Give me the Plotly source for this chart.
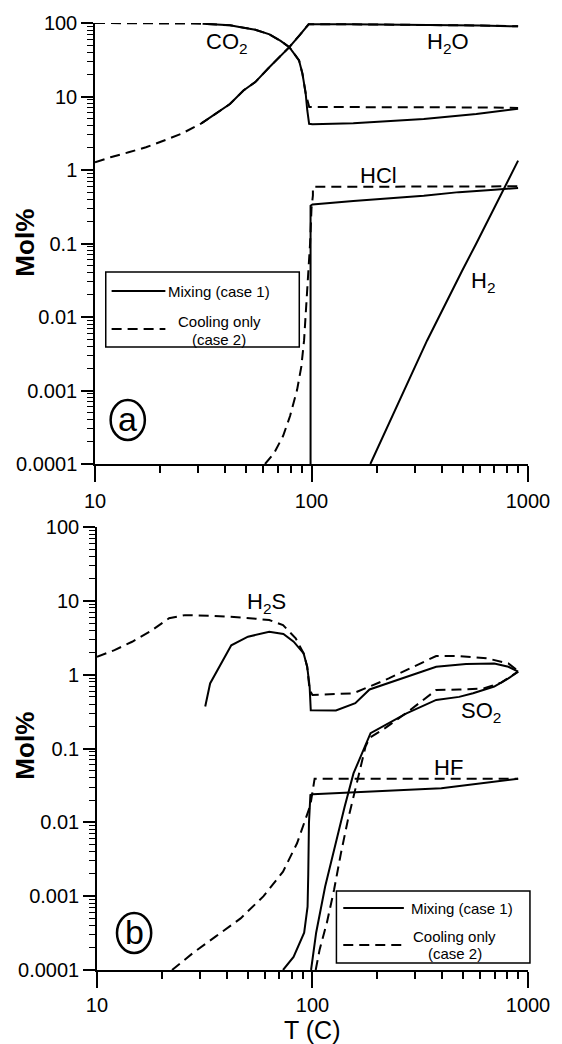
import plotly.graph_objects as go

# ---------------- DATA ----------------
# Panel (a)
h2o_mix_T = [31, 42, 48.5, 55, 64, 79, 88, 97, 150, 330, 600, 900]
h2o_mix_v = [4.3, 7.9, 12.1, 15.7, 25.2, 47, 68, 96, 96, 95, 92.5, 90]
h2o_cool_T = [10, 11.8, 14.3, 17.2, 20.7, 25, 31, 42, 48.5, 55, 64, 79, 88, 97, 150, 330, 600, 900]
h2o_cool_v = [1.27, 1.49, 1.74, 2.04, 2.5, 3.1, 4.3, 7.9, 12.1, 15.7, 25.2, 47, 68, 96, 96, 95, 92.5, 90]

co2_mix_T = [31.4, 42, 48.5, 55, 64, 72, 79, 84, 87.6, 90.8, 94, 95.6, 96.6, 97.5, 101, 156, 330, 577, 900]
co2_mix_v = [98, 93, 86, 81, 70, 57, 47, 37, 31, 20.5, 11, 6.5, 4.74, 4.25, 4.2, 4.33, 4.95, 5.8, 6.8]
co2_cool_T = [10, 20, 31.4, 42, 48.5, 55, 64, 72, 79, 84, 87.6, 90.8, 94, 97.6, 101, 300, 600, 900]
co2_cool_v = [100, 99.5, 98, 93, 86, 81, 70, 57, 47, 37, 31, 20.5, 11, 7.2, 7.2, 7.15, 7.1, 7.0]

hcl_mix_T = [99, 99, 101, 156, 330, 479, 700, 900]
hcl_mix_v = [0.0001, 0.327, 0.34, 0.38, 0.445, 0.5, 0.54, 0.57]
hcl_cool_T = [61, 67.3, 73.9, 79.6, 85.8, 89.7, 92.4, 94.6, 96.7, 98.5, 100, 101.5, 101.5, 900]
hcl_cool_v = [0.0001, 0.000142, 0.00024, 0.00045, 0.00102, 0.0021, 0.0048, 0.0136, 0.0385, 0.1, 0.3, 0.45, 0.59, 0.6]

h2_mix_T = [187, 342, 497, 577, 900]
h2_mix_v = [0.0001, 0.0048, 0.043, 0.1, 1.34]

# Panel (b)
h2s_mix_T = [31.8, 33.5, 42, 50.2, 63, 73.3, 81.8, 91, 94.5, 97, 98.2, 128.5, 158, 184, 375, 516, 697, 811, 900]
h2s_mix_v = [0.37, 0.76, 2.5, 3.27, 3.8, 3.55, 2.8, 1.94, 1.28, 0.69, 0.33, 0.327, 0.41, 0.63, 1.28, 1.39, 1.42, 1.28, 1.1]
h2s_cool_T = [10, 12.06, 14.56, 17.56, 21.6, 25.6, 34.5, 46.6, 63, 73, 83.6, 91, 94.5, 97, 100, 155, 184, 226, 375, 479, 647, 811, 900]
h2s_cool_v = [1.75, 2.15, 2.79, 3.81, 5.8, 6.4, 6.27, 5.95, 5.5, 4.7, 3.1, 1.94, 1.28, 0.62, 0.53, 0.56, 0.69, 0.89, 1.79, 1.79, 1.66, 1.42, 1.12]

so2_mix_T = [98.5, 104, 114.5, 128, 141, 155, 180, 186, 273, 375, 479, 556, 697, 811, 900]
so2_mix_v = [0.0001, 0.00032, 0.00135, 0.0052, 0.0163, 0.046, 0.13, 0.161, 0.30, 0.455, 0.50, 0.56, 0.69, 0.89, 1.1]
so2_cool_T = [103.5, 108, 116.7, 126, 135.5, 146, 160.6, 176, 184, 218, 283, 375, 479, 622, 752, 900]
so2_cool_v = [0.0001, 0.00019, 0.00044, 0.00123, 0.0038, 0.0108, 0.034, 0.105, 0.14, 0.19, 0.33, 0.62, 0.63, 0.65, 0.78, 1.1]

hf_mix_T = [73, 81.7, 91.5, 94.9, 95.6, 96.3, 97.8, 100.2, 396, 900]
hf_mix_v = [0.0001, 0.00015, 0.00032, 0.00072, 0.002, 0.0097, 0.0234, 0.024, 0.029, 0.039]
hf_cool_T = [22.3, 27.9, 35.6, 46.4, 59.3, 73, 84.8, 91.5, 97.8, 102.3, 900]
hf_cool_v = [0.0001, 0.00017, 0.000285, 0.0005, 0.001, 0.00215, 0.0052, 0.0097, 0.0171, 0.039, 0.039]

x_tickvals = [10, 100, 1000]
x_ticktext = ["10", "100", "1000"]
y_tickvals = [0.0001, 0.001, 0.01, 0.1, 1, 10, 100]
y_ticktext = ["0.0001", "0.001", "0.01", "0.1", "1", "10", "100"]
x_minor_vals = [m * 10 ** e for e in (1, 2) for m in range(2, 10)]
y_minor_vals = [m * 10.0 ** e for e in (-4, -3, -2, -1, 0, 1) for m in range(2, 10)]

# ---------------- FIGURE ----------------
W, H = 562, 1044
ML, MR, MT, MB = 95, 24, 23, 74
PW, PH = W - ML - MR, H - MT - MB


def fx(px):
    return (px - ML) / PW


def fy(py):
    return (H - MB - py) / PH


FONT = "Liberation Sans, Arial, Helvetica, sans-serif"
DASH = "10px,6px"
LW = 2

fig = go.Figure()


def add(T, v, dashed, xa, ya):
    fig.add_trace(go.Scatter(
        x=T, y=v, mode="lines", xaxis=xa, yaxis=ya, showlegend=False,
        line=dict(color="black", width=LW, dash=DASH if dashed else "solid"),
        hoverinfo="skip"))


# panel a (dashed first, solid on top)
add(h2o_cool_T, h2o_cool_v, True, "x", "y")
add(co2_cool_T, co2_cool_v, True, "x", "y")
add(hcl_cool_T, hcl_cool_v, True, "x", "y")
add(h2o_mix_T, h2o_mix_v, False, "x", "y")
add(co2_mix_T, co2_mix_v, False, "x", "y")
add(hcl_mix_T, hcl_mix_v, False, "x", "y")
add(h2_mix_T, h2_mix_v, False, "x", "y")
# panel b
add(h2s_cool_T, h2s_cool_v, True, "x2", "y2")
add(so2_cool_T, so2_cool_v, True, "x2", "y2")
add(hf_cool_T, hf_cool_v, True, "x2", "y2")
add(h2s_mix_T, h2s_mix_v, False, "x2", "y2")
add(so2_mix_T, so2_mix_v, False, "x2", "y2")
add(hf_mix_T, hf_mix_v, False, "x2", "y2")

# empty traces so the minor-tick overlay axes exist
for xa, ya in (("x3", "y3"), ("x4", "y4")):
    fig.add_trace(go.Scatter(x=[], y=[], xaxis=xa, yaxis=ya, showlegend=False, hoverinfo="skip"))

tickfont = dict(family=FONT, size=20, color="black")
xcommon = dict(type="log", range=[1, 3], showline=True, linecolor="black", linewidth=1.5,
               ticks="outside", ticklen=16, tickwidth=1.5, tickcolor="black",
               tickmode="array", tickvals=x_tickvals, ticktext=x_ticktext,
               showgrid=False, zeroline=False, tickfont=tickfont)
ycommon = dict(type="log", range=[-4, 2], showline=True, linecolor="black", linewidth=1.5,
               ticks="outside", ticklen=12, tickwidth=1.5, tickcolor="black",
               tickmode="array", tickvals=y_tickvals, ticktext=y_ticktext,
               showgrid=False, zeroline=False, tickfont=tickfont)
xminor = dict(type="log", range=[1, 3], showline=False, ticks="outside", ticklen=8,
              tickwidth=1.5, tickcolor="black", tickmode="array", tickvals=x_minor_vals,
              showticklabels=False, showgrid=False, zeroline=False)
yminor = dict(type="log", range=[-4, 2], showline=False, ticks="outside", ticklen=7,
              tickwidth=1.2, tickcolor="black", tickmode="array", tickvals=y_minor_vals,
              showticklabels=False, showgrid=False, zeroline=False)

fig.update_layout(
    width=W, height=H, margin=dict(l=ML, r=MR, t=MT, b=MB),
    paper_bgcolor="white", plot_bgcolor="rgba(0,0,0,0)",
    xaxis=dict(domain=[0, 1], anchor="y", ticklabelstandoff=2, **xcommon),
    yaxis=dict(domain=[fy(464), 1], anchor="x", **ycommon),
    xaxis2=dict(domain=[fx(97), 1], anchor="y2", ticklabelstandoff=0, **xcommon),
    yaxis2=dict(domain=[0, fy(527)], anchor="x2", **ycommon),
    xaxis3=dict(domain=[0, 1], anchor="y3", **xminor),
    yaxis3=dict(domain=[fy(464), 1], anchor="x3", **yminor),
    xaxis4=dict(domain=[fx(97), 1], anchor="y4", **xminor),
    yaxis4=dict(domain=[0, fy(527)], anchor="x4", **yminor),
    font=dict(family=FONT, color="black"),
)

ann = []


def text(px, py, s, size, bold=False, angle=0, xanchor="center"):
    ann.append(dict(x=fx(px), y=fy(py), xref="paper", yref="paper", text=s,
                    showarrow=False, textangle=angle, xanchor=xanchor, yanchor="middle",
                    font=dict(family=FONT, size=size, color="black",
                              weight="bold" if bold else "normal")))


# species labels
text(230, 43, "CO<sub>2</sub>", 22)
text(456, 43, "H<sub>2</sub>O", 22)
text(385, 175, "HCl", 22)
text(492, 282, "H<sub>2</sub>", 22)
text(270, 603, "H<sub>2</sub>S", 22)
text(490, 712, "SO<sub>2</sub>", 22)
text(457, 767, "HF", 22)

# axis titles
text(23, 243, "Mol%", 26, bold=True, angle=-90)
text(23, 746, "Mol%", 26, bold=True, angle=-90)
text(317, 1030, "T (C)", 25)

shapes = []

# panel letters in circles
for cx, cy, letter in [(128.5, 420, "a"), (135, 933, "b")]:
    shapes.append(dict(type="circle", xref="paper", yref="paper",
                       x0=fx(cx - 17.5), x1=fx(cx + 17.5), y0=fy(cy + 20), y1=fy(cy - 20),
                       line=dict(color="black", width=2.5)))
    text(cx, cy - 1, letter, 34)


# legends
def legend(x0, y0, x1, y1, ls, le, ly1, ly2, tx, cx, cy1, cy2):
    shapes.append(dict(type="rect", xref="paper", yref="paper",
                       x0=fx(x0), x1=fx(x1), y0=fy(y1), y1=fy(y0),
                       line=dict(color="black", width=1.5), fillcolor="white"))
    shapes.append(dict(type="line", xref="paper", yref="paper",
                       x0=fx(ls), x1=fx(le), y0=fy(ly1), y1=fy(ly1),
                       line=dict(color="black", width=2)))
    shapes.append(dict(type="line", xref="paper", yref="paper",
                       x0=fx(ls), x1=fx(le), y0=fy(ly2), y1=fy(ly2),
                       line=dict(color="black", width=2, dash=DASH)))
    text(tx, ly1, "Mixing (case 1)", 15, xanchor="left")
    text(cx, cy1, "Cooling only", 15)
    text(cx, cy2, "(case 2)", 15)


legend(106, 272, 304, 347, 112, 167, 291, 329, 168, 222, 322, 339)
legend(342, 891, 540, 963, 349, 411, 908, 945, 416, 463, 936, 953)

fig.update_layout(annotations=ann, shapes=shapes)
fig.write_html("out.html")
